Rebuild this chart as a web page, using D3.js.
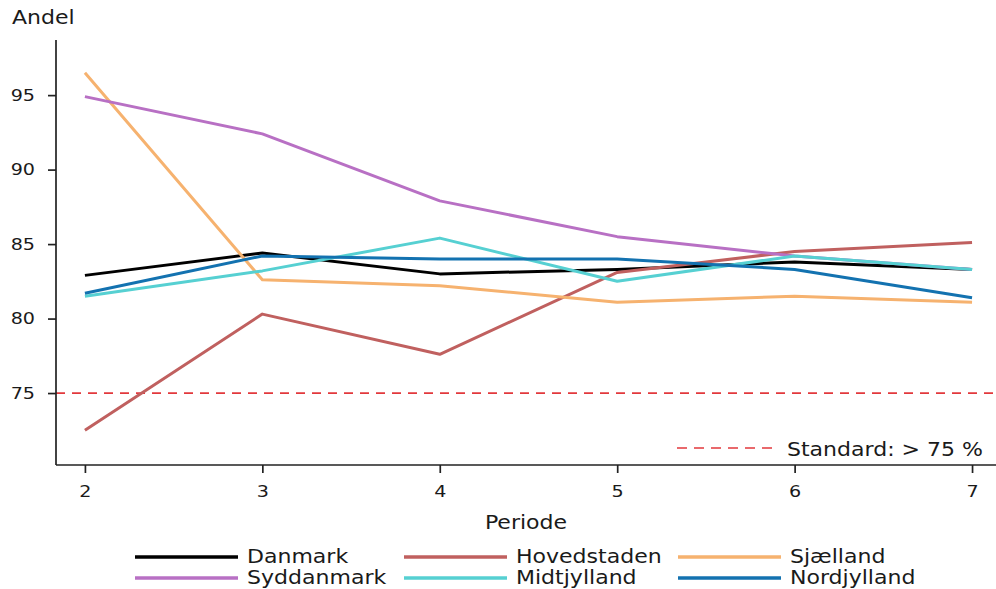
<!DOCTYPE html>
<html>
<head>
<meta charset="utf-8">
<script src="https://cdn.jsdelivr.net/npm/d3@7"></script>
<style>
  body { margin: 0; background: #fff; }
  svg text { font-family: "DejaVu Sans", sans-serif; fill: #1a1a1a; }
</style>
</head>
<body>
<svg id="mainSvg" width="996" height="589"></svg>
<script>
// periods on the x axis
var periods = [2, 3, 4, 5, 6, 7];
var regions = ["Danmark", "Hovedstaden", "Sjælland", "Syddanmark", "Midtjylland", "Nordjylland"];
var colors = ["#000000", "#c0605f", "#f6b26f", "#b870c4", "#56d0d2", "#1372b0"];

// values
var danmark     = [82.9, 84.4, 83.0, 83.3, 83.8, 83.3];
var hovedstaden = [72.5, 80.3, 77.6, 83.1, 84.5, 85.1];
var sjaelland   = [96.5, 82.6, 82.2, 81.1, 81.5, 81.1];
var syddanmark  = [94.9, 92.4, 87.9, 85.5, 84.2, 83.3];
var midtjylland = [81.5, 83.2, 85.4, 82.5, 84.2, 83.3];
var nordjylland = [81.7, 84.2, 84.0, 84.0, 83.3, 81.4];
var seriesValues = [danmark, hovedstaden, sjaelland, syddanmark, midtjylland, nordjylland];

var yTicks = [75, 80, 85, 90, 95];
var standard = 75;

// text in the original is a bit stretched sideways
var stretch = 1.16;

var margin = {top: 40, right: 0, bottom: 124, left: 56},
    width = 996 - margin.left - margin.right,
    height = 589 - margin.top - margin.bottom;

var x = d3.scaleLinear().domain([1.837, 7.135]).range([0, width]);
var y = d3.scaleLinear().domain([70.17, 98.7]).range([height, 0]);

var svg = d3.select("#mainSvg");
var g = svg.append("g")
    .attr("transform", "translate(" + margin.left + "," + margin.top + ")");

function addText(parent, tx, ty, str, size, anchor) {
    return parent.append("text")
        .attr("transform", "translate(" + tx + "," + ty + ") scale(" + stretch + ",1)")
        .attr("text-anchor", anchor || "start")
        .style("font-size", size + "px")
        .text(str);
}

// reference line
g.append("line")
    .attr("x1", 0).attr("x2", width)
    .attr("y1", y(standard)).attr("y2", y(standard))
    .attr("stroke", "#e2383c")
    .attr("stroke-width", 1.7)
    .attr("stroke-dasharray", "9,7");

// lines
var valueline = d3.line()
    .x(function(d, i) { return x(periods[i]); })
    .y(function(d) { return y(d); });

seriesValues.forEach(function(vals, k) {
    g.append("path")
        .attr("d", valueline(vals))
        .attr("fill", "none")
        .attr("stroke", colors[k])
        .attr("stroke-width", 3)
        .attr("stroke-linejoin", "round");
});

// axes
var xAxis = g.append("g")
    .attr("transform", "translate(0," + height + ")")
    .call(d3.axisBottom(x).tickValues(periods).tickFormat(d3.format("d")).tickSize(8).tickPadding(12));
var yAxis = g.append("g")
    .call(d3.axisLeft(y).tickValues(yTicks).tickSize(8).tickPadding(10));

[xAxis, yAxis].forEach(function(a) {
    a.select(".domain").attr("stroke", "#222").attr("stroke-width", 1.7);
    a.selectAll(".tick line").attr("stroke", "#222").attr("stroke-width", 1.7);
    a.selectAll(".tick text")
        .style("font-size", "16.5px")
        .attr("fill", "#1a1a1a")
        .attr("transform", "scale(" + stretch + ",1)");
});
yAxis.selectAll(".tick text").attr("x", -21 / stretch);
yAxis.select(".domain").attr("d", "M0," + height + "V0");
xAxis.select(".domain").attr("d", "M0,0H" + width);

// titles
addText(svg, 12, 24, "Andel", 19);
addText(svg, margin.left + width / 2, 529, "Periode", 19, "middle");

// standard legend inside plot
var sl = svg.append("g").attr("transform", "translate(677,448)");
sl.append("line")
    .attr("x1", 0).attr("x2", 95)
    .attr("y1", 0).attr("y2", 0)
    .attr("stroke", "#e2383c")
    .attr("stroke-width", 1.7)
    .attr("stroke-dasharray", "10,7");
addText(sl, 110, 8, "Standard: > 75 %", 19);

// bottom legend
var legendCols = [135, 404, 678];
var legendRows = [557, 578];
regions.forEach(function(name, k) {
    var lx = legendCols[k % 3], ly = legendRows[Math.floor(k / 3)];
    var lg = svg.append("g").attr("transform", "translate(" + lx + "," + ly + ")");
    lg.append("line")
        .attr("x1", 0).attr("x2", 103)
        .attr("y1", 0).attr("y2", 0)
        .attr("stroke", colors[k])
        .attr("stroke-width", 3.5);
    addText(lg, 112, 6, name, 19);
});
</script>
</body>
</html>
